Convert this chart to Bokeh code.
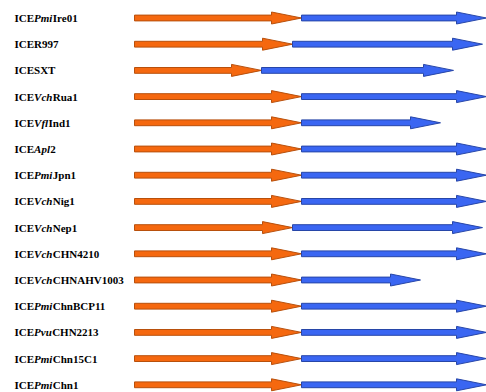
from bokeh.plotting import figure
from bokeh.models import Range1d, ColumnDataSource
from bokeh.core.properties import value
from bokeh.embed import file_html
from bokeh.resources import INLINE

# ---- data -------------------------------------------------------------
prefix = ["ICE", "ICER997", "ICESXT", "ICE", "ICE", "ICE", "ICE", "ICE",
          "ICE", "ICE", "ICE", "ICE", "ICE", "ICE", "ICE"]
species = ["Pmi", "", "", "Vch", "Vfl", "Apl", "Pmi", "Vch",
           "Vch", "Vch", "Vch", "Pmi", "Pvu", "Pmi", "Pmi"]
suffix = ["Ire01", "", "", "Rua1", "Ind1", "2", "Jpn1", "Nig1",
          "Nep1", "CHN4210", "CHNAHV1003", "ChnBCP11", "CHN2213", "Chn15C1", "Chn1"]
# length of the orange (first) segment and end of the blue (second) segment
orange_end = [167, 158, 127, 167, 167, 167, 167, 167, 158, 167, 167, 167, 167, 167, 167]
blue_end = [352, 348, 319, 352, 306, 352, 352, 352, 348, 352, 286, 352, 352, 352, 352]

# ---- layout constants --------------------------------------------------
W, H = 486, 392
OFF = 0             # page offset of the figure
ROW = 26.2          # px per row
FIRST = 17.5        # page y of first row centre
X0 = 134            # page x of arrow start
FS = 11             # font size px
SHAFT = 2.9         # half shaft height px
HEAD_H = 6.0        # half head height px
HEAD_L = 30.0       # head length px

n = len(prefix)
rows = list(range(n))

x_start = OFF - X0
x_end = x_start + W
y_top = (OFF - FIRST) / ROW
y_bot = (OFF + H - FIRST) / ROW

p = figure(width=W, height=H, output_backend="svg", toolbar_location=None,
           x_range=Range1d(x_start, x_end), y_range=Range1d(y_bot, y_top),
           x_axis_type=None, y_axis_type=None, min_border=0,
           background_fill_color="white", border_fill_color="white")
p.outline_line_color = None
p.grid.visible = False


def arrow(x0, x1, yc):
    sh = SHAFT / ROW
    hh = HEAD_H / ROW
    hb = x1 - HEAD_L
    xs = [x0, hb, hb, x1, hb, hb, x0]
    ys = [yc - sh, yc - sh, yc - hh, yc, yc + hh, yc + sh, yc + sh]
    return xs, ys


ox, oy, bx, by = [], [], [], []
for i in rows:
    a, b = arrow(0, orange_end[i], i)
    ox.append(a); oy.append(b)
    a, b = arrow(orange_end[i], blue_end[i], i)
    bx.append(a); by.append(b)

p.patches(ox, oy, fill_color="#F5680F", line_color="#B8500C", line_width=1)
p.patches(bx, by, fill_color="#3A66F2", line_color="#2746A8", line_width=1)

# ---- labels with mixed bold / bold italic -----------------------------
BOLD = {
    'A': 722, 'B': 667, 'C': 722, 'D': 722, 'E': 667, 'F': 611, 'G': 778,
    'H': 778, 'I': 389, 'J': 500, 'K': 778, 'L': 667, 'M': 944, 'N': 722,
    'O': 778, 'P': 611, 'Q': 778, 'R': 722, 'S': 556, 'T': 667, 'U': 722,
    'V': 722, 'W': 1000, 'X': 722, 'Y': 722, 'Z': 667,
    'a': 500, 'b': 556, 'c': 444, 'd': 556, 'e': 444, 'f': 333, 'g': 500,
    'h': 556, 'i': 278, 'j': 333, 'k': 556, 'l': 278, 'm': 833, 'n': 556,
    'o': 500, 'p': 556, 'q': 556, 'r': 444, 's': 389, 't': 333, 'u': 556,
    'v': 500, 'w': 722, 'x': 500, 'y': 500, 'z': 444,
}
BOLD_IT = {'A': 667, 'P': 611, 'V': 667, 'a': 500, 'c': 444, 'f': 333,
           'h': 556, 'i': 278, 'l': 278, 'm': 778, 'p': 500, 'u': 556, 'v': 444}


def width(s, table):
    return sum(table.get(c, 500) for c in s) * FS / 1000.0


LX = 14 - X0
x_sp = [LX + width(prefix[i], BOLD) for i in rows]
x_sf = [x_sp[i] + width(species[i], BOLD_IT) + 0.4 for i in rows]

src = ColumnDataSource(dict(y=rows, pre=prefix, sp=species, sf=suffix,
                            xp=[LX] * n, xs=x_sp, xf=x_sf))
common = dict(y="y", source=src, text_baseline="middle", text_align="left",
              text_font=value("Liberation Serif"), text_font_size=f"{FS}px",
              text_color="#000000")
p.text(x="xp", text="pre", text_font_style="bold", **common)
p.text(x="xs", text="sp", text_font_style="bold italic", **common)
p.text(x="xf", text="sf", text_font_style="bold", **common)

open("out.html", "w").write(file_html(p, INLINE))
